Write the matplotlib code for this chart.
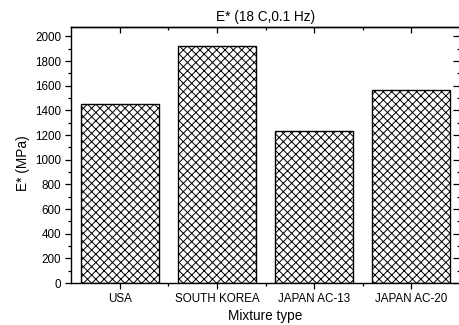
import matplotlib
matplotlib.use("Agg")
import matplotlib.pyplot as plt
from matplotlib.ticker import MultipleLocator, FixedLocator, NullFormatter

categories = ["USA", "SOUTH KOREA", "JAPAN AC-13", "JAPAN AC-20"]
modulus_mpa = [1455, 1920, 1235, 1563]

plt.rcParams["font.family"] = ["Liberation Sans", "DejaVu Sans"]
plt.rcParams["hatch.linewidth"] = 0.7

fig = plt.figure(figsize=(4.59, 3.25), dpi=100)
ax = fig.add_axes([71 / 459, 1 - 283 / 325, (460 - 71) / 459, (283 - 27) / 325])

x = list(range(len(categories)))
ax.bar(x, modulus_mpa, width=0.8, facecolor="white", edgecolor="black",
       hatch="xxxx", linewidth=1.0)

ax.set_xlim(-0.5, 3.5)
ax.set_ylim(0, 2077)
ax.set_xticks(x)
ax.set_xticklabels(categories, fontsize=8.4)
ax.xaxis.set_minor_locator(FixedLocator([0.5, 1.5, 2.5]))
ax.yaxis.set_major_locator(MultipleLocator(200))
ax.yaxis.set_minor_locator(MultipleLocator(100))
ax.tick_params(axis="y", labelsize=8.4)
ax.tick_params(which="major", direction="out", length=4.5, width=0.9, pad=2.5)
ax.tick_params(which="minor", direction="out", length=2.5, width=0.9)

# inward ticks along the top and right frame
top = ax.secondary_xaxis("top")
top.set_xticks(x)
top.xaxis.set_minor_locator(FixedLocator([0.5, 1.5, 2.5]))
top.xaxis.set_major_formatter(NullFormatter())
top.tick_params(which="major", direction="in", length=4.5, width=0.9)
top.tick_params(which="minor", direction="in", length=2.5, width=0.9)

right = ax.secondary_yaxis("right")
right.yaxis.set_major_locator(MultipleLocator(200))
right.yaxis.set_minor_locator(MultipleLocator(100))
right.yaxis.set_major_formatter(NullFormatter())
right.tick_params(which="major", direction="in", length=5, width=0.9)
right.tick_params(which="minor", direction="in", length=2.5, width=0.9)

for s in ax.spines.values():
    s.set_linewidth(1.0)
for s in list(top.spines.values()) + list(right.spines.values()):
    s.set_linewidth(1.0)

ax.set_title("E* (18 C,0.1 Hz)", fontsize=9.8, pad=4)
ax.set_xlabel("Mixture type", fontsize=9.8, labelpad=3)
ax.set_ylabel("E* (MPa)", fontsize=9.8)
ax.yaxis.set_label_coords(-0.105, 0.47)

fig.savefig("out.png", dpi=100)
